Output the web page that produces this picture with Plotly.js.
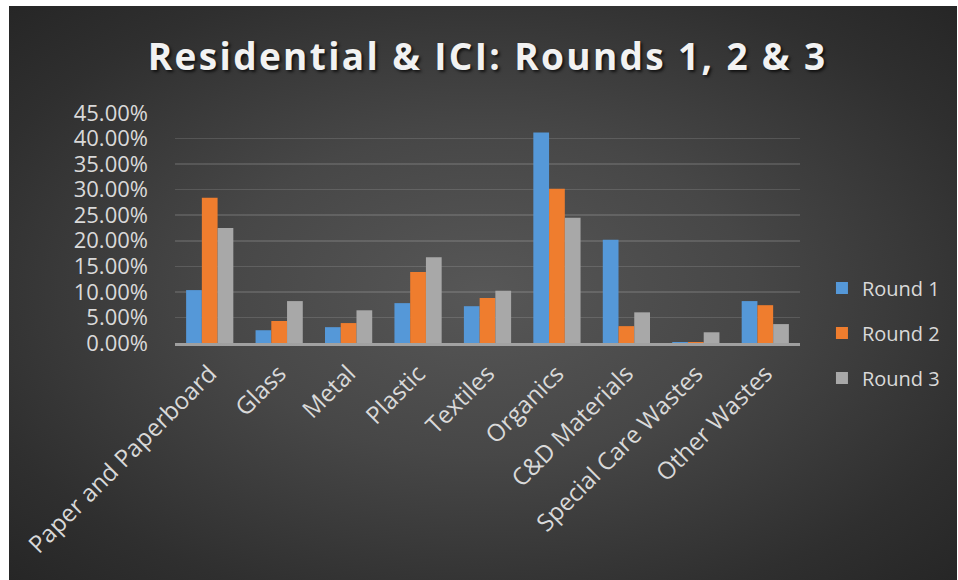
<!DOCTYPE html>
<html>
<head>
<meta charset="utf-8">
<script src="https://cdn.plot.ly/plotly-3.0.1.min.js"></script>
<style>
  html, body { margin: 0; padding: 0; background: #ffffff; }
  #wrap { position: relative; width: 958px; height: 580px; background: #ffffff; overflow: hidden; }
  #bg { position: absolute; left: 9px; top: 6px; width: 948px; height: 574px;
        background: radial-gradient(ellipse farthest-corner at 50% 50%, #575757 0%, #474747 40%, #2f2f2f 80%, #262626 100%); }
  #chart { position: absolute; left: 0; top: 0; width: 958px; height: 580px; }
  #chart .gtitle { letter-spacing: 2.35px; }
</style>
</head>
<body>
<div id="wrap">
  <div id="bg"></div>
  <div id="chart"></div>
</div>
<script>
const categories = ["Paper and Paperboard", "Glass", "Metal", "Plastic", "Textiles", "Organics", "C&D Materials", "Special Care Wastes", "Other Wastes"];
const round1 = [10.35, 2.5, 3.1, 7.8, 7.2, 41.2, 20.2, 0.2, 8.2];
const round2 = [28.4, 4.3, 3.9, 13.9, 8.8, 30.2, 3.3, 0.2, 7.4];
const round3 = [22.5, 8.2, 6.4, 16.8, 10.2, 24.5, 6.0, 2.1, 3.7];
const seriesNames = ["Round 1", "Round 2", "Round 3"];
const yTicks = [0, 5, 10, 15, 20, 25, 30, 35, 40, 45];

const colors = ["#5598d8", "#ef7d2e", "#a8a8a8"];
const seriesValues = [round1, round2, round3];

const traces = seriesValues.map((vals, i) => ({
  type: "bar",
  name: seriesNames[i],
  x: categories,
  y: vals,
  legendgroup: "g" + i,
  marker: { color: colors[i], line: { width: 0 } },
  hoverinfo: "x+y+name"
}));

const layout = {
  width: 958,
  height: 580,
  paper_bgcolor: "rgba(0,0,0,0)",
  plot_bgcolor: "rgba(0,0,0,0)",
  margin: { l: 175, r: 158, t: 113, b: 237 },
  barmode: "group",
  bargap: 0.32,
  bargroupgap: 0,
  font: { family: "Open Sans, sans-serif", color: "#d9d9d9" },
  title: {
    text: "Residential & ICI: Rounds 1, 2 & 3",
    x: 0.509,
    xanchor: "center",
    y: 0.902,
    yanchor: "middle",
    xref: "container",
    yref: "container",
    font: { family: "Open Sans, sans-serif", size: 37, weight: 700, color: "#f2f2f2",
            shadow: "2px 2px 3px rgba(0,0,0,0.7)" }
  },
  xaxis: {
    type: "category",
    tickangle: -45,
    tickfont: { size: 24, color: "#d9d9d9" },
    showline: true,
    linecolor: "rgba(190,190,190,0.75)",
    linewidth: 3,
    ticks: "",
    showgrid: false,
    zeroline: false,
    ticklabelstandoff: 4
  },
  yaxis: {
    range: [0, 45],
    tickvals: yTicks,
    ticktext: yTicks.map(v => v.toFixed(2) + "%"),
    tickfont: { size: 22, color: "#d9d9d9" },
    showgrid: true,
    gridcolor: "rgba(255,255,255,0.13)",
    gridwidth: 1.5,
    zeroline: false,
    showline: false,
    ticks: "",
    ticklabelstandoff: 26
  },
  legend: {
    xref: "container",
    yref: "container",
    x: 0.858,
    xanchor: "left",
    y: 0.426,
    yanchor: "middle",
    traceorder: "grouped",
    tracegroupgap: 16,
    font: { size: 20, color: "#d9d9d9" },
    bgcolor: "rgba(0,0,0,0)"
  },
  showlegend: true
};

Plotly.newPlot("chart", traces, layout, { displayModeBar: false, staticPlot: true });
</script>
</body>
</html>
